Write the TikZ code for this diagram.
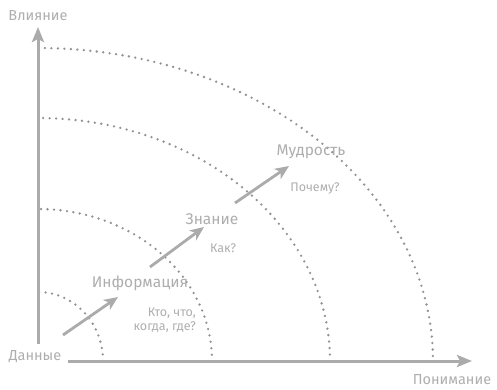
\documentclass[tikz,border=0pt]{standalone}
\usepackage{fontspec}
\setmainfont{Fira Sans}
\usetikzlibrary{arrows.meta}
\definecolor{axisgray}{HTML}{ABABAB}
\definecolor{textgray}{HTML}{AEAEAE}
\definecolor{dotgray}{HTML}{929292}
\tikzset{
  axisline/.style={draw=axisgray, line width=3pt, -{Stealth[length=15pt,width=12pt,inset=3pt]}},
  growarrow/.style={draw=axisgray, line width=2.8pt, -{Stealth[length=14pt,width=12pt,inset=4pt]}},
  arcline/.style={draw=dotgray, line width=2.6pt, line cap=round, dash pattern=on 0pt off 6.5pt},
  biglabel/.style={text=textgray, font=\fontsize{15.5}{18}\selectfont, inner sep=0pt},
  axislabel/.style={text=textgray, font=\fontsize{14.5}{17}\selectfont, inner sep=0pt},
  smalllabel/.style={text=textgray, font=\fontsize{12.5}{14.5}\selectfont, inner sep=0pt, align=right},
}
\begin{document}
\begin{tikzpicture}[x=1pt,y=-1pt]
\useasboundingbox (0,0) rectangle (497,389);
% arcs
\foreach \rx/\ry in {65/69, 174/152, 292/243, 395/313}{
  \draw[arcline] plot[domain=89:0, samples=150] ({38+\rx*cos(\x)},{361-\ry*sin(\x)});
}
% axes
\coordinate (ybot) at (38,344);
\coordinate (ytop) at (38,27);
\coordinate (xl) at (68,361);
\coordinate (xr) at (472,361);
\draw[axisline] (ybot) -- (ytop);
\draw[axisline] (xl) -- (xr);
% labels
\node[axislabel] (vl) at (38,16) {Влияние};
\node[axislabel] (dn) at (35,357) {Данные};
\node[axislabel] (pn) at (452,380) {Понимание};
\node[biglabel] (inf) at (140,283) {Информация};
\node[biglabel] (zn) at (212,219) {Знание};
\node[biglabel] (mu) at (311,152) {Мудрость};
\node[smalllabel, anchor=east] (kto) at (196,320) {Кто, что,\\когда, где?};
\node[smalllabel] (kak) at (223,248) {Как?};
\node[smalllabel] (poch) at (315,188) {Почему?};
% arrows
\coordinate (a1s) at (63,335);
\coordinate (a1e) at (118,297);
\coordinate (a2s) at (150,267);
\coordinate (a2e) at (204,227);
\coordinate (a3s) at (235,203);
\coordinate (a3e) at (289,166);
\draw[growarrow] (a1s) -- (a1e);
\draw[growarrow] (a2s) -- (a2e);
\draw[growarrow] (a3s) -- (a3e);
\end{tikzpicture}
\end{document}
